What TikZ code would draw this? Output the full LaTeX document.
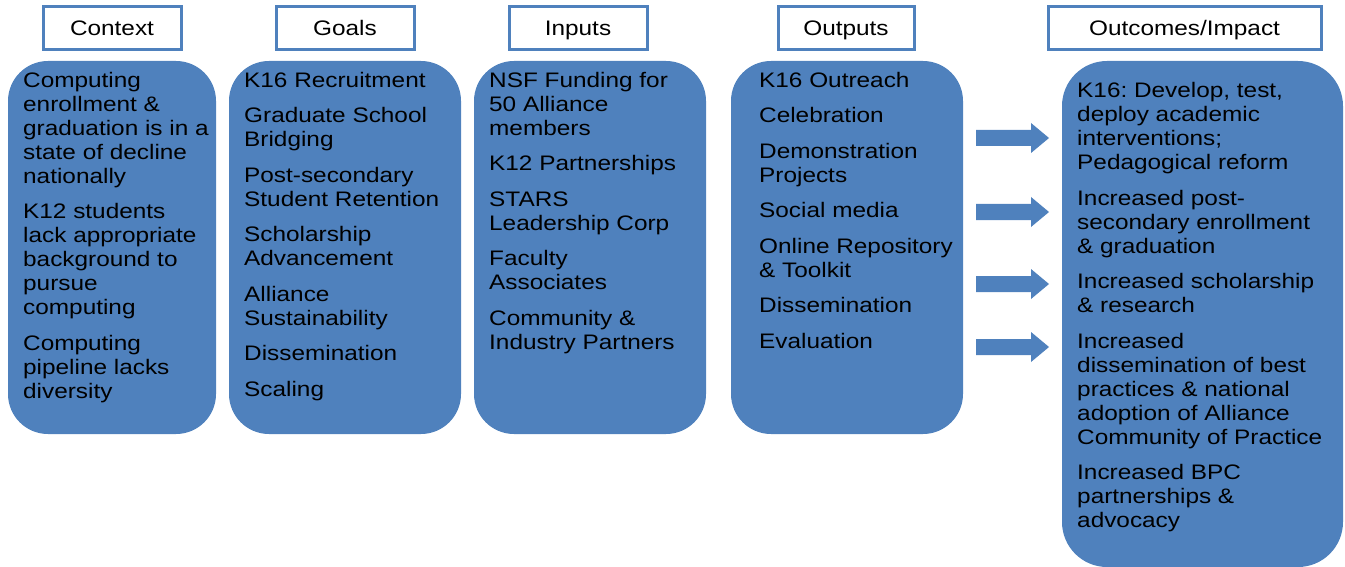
\documentclass[tikz,border=0pt]{standalone}
\usepackage{fontspec}
\setmainfont{Liberation Sans}[FakeStretch=1.16]
\frenchspacing
\definecolor{boxblue}{HTML}{4F81BD}
\tikzset{
  hdr/.style={draw=boxblue, line width=3pt, fill=white},
  panel/.style={fill=boxblue},
  txt/.style={anchor=north west, align=left, inner sep=0pt, font=\fontsize{21}{24}\selectfont, text=black, execute at begin node={\rule{0pt}{17pt}}},
  hdrtxt/.style={anchor=base, inner sep=0pt, font=\fontsize{21}{24}\selectfont, text=black},
  blockarrow/.style={fill=boxblue}
}
\newcommand{\pgap}{\\[11.5pt]}
\begin{document}
\begin{tikzpicture}[x=1pt,y=-1pt]
\useasboundingbox (0,0) rectangle (1345,567);
% header boxes
\draw[hdr] (43,7) rectangle (181,50);
\draw[hdr] (276,7) rectangle (414,50);
\draw[hdr] (509,7) rectangle (647,50);
\draw[hdr] (778,7) rectangle (914,50);
\draw[hdr] (1048,7) rectangle (1321,50);
\node[hdrtxt] (hcontext) at (112,35.5) {Context};
\node[hdrtxt] (hgoals) at (345,35.5) {Goals};
\node[hdrtxt] (hinputs) at (578,35.5) {Inputs};
\node[hdrtxt] (houtputs) at (846,35.5) {Outputs};
\node[hdrtxt] (houtcomes) at (1184.5,35.5) {Outcomes/Impact};
% panels
\fill[panel, rounded corners=40pt] (8,61) rectangle (216,434);
\fill[panel, rounded corners=40pt] (229,61) rectangle (461,434);
\fill[panel, rounded corners=40pt] (474,61) rectangle (706,434);
\fill[panel, rounded corners=40pt] (731,61) rectangle (963,434);
\fill[panel, rounded corners=45pt] (1062,61) rectangle (1343,567);
% texts (top = first baseline - 17)
\node[txt] (tcontext) at (23,72) {Computing\\enrollment \&\\graduation is in a\\state of decline\\nationally\pgap K12 students\\lack appropriate\\background to\\pursue\\computing\pgap Computing\\pipeline lacks\\diversity};
\node[txt] (tgoals) at (244,72) {K16 Recruitment\pgap Graduate School\\Bridging\pgap Post-secondary\\Student Retention\pgap Scholarship\\Advancement\pgap Alliance\\Sustainability\pgap Dissemination\pgap Scaling};
\node[txt] (tinputs) at (489,72) {NSF Funding for\\50 Alliance\\members\pgap K12 Partnerships\pgap STARS\\Leadership Corp\pgap Faculty\\Associates\pgap Community \&\\Industry Partners};
\node[txt] (toutputs) at (759,72) {K16 Outreach\pgap Celebration\pgap Demonstration\\Projects\pgap Social media\pgap Online Repository\\\& Toolkit\pgap Dissemination\pgap Evaluation};
\node[txt] (toutcomes) at (1077,82.5) {K16: Develop, test,\\deploy academic\\interventions;\\Pedagogical reform\pgap Increased post-\\secondary enrollment\\\& graduation\pgap Increased scholarship\\\& research\pgap Increased\\dissemination of best\\practices \& national\\adoption of Alliance\\Community of Practice\pgap Increased BPC\\partnerships \&\\advocacy};
% block arrows
\foreach \yy in {138,212,284,347}{
  \fill[blockarrow] (976,\yy-8) -- (1031,\yy-8) -- (1031,\yy-15) -- (1049,\yy) -- (1031,\yy+15) -- (1031,\yy+8) -- (976,\yy+8) -- cycle;
}
\end{tikzpicture}
\end{document}
